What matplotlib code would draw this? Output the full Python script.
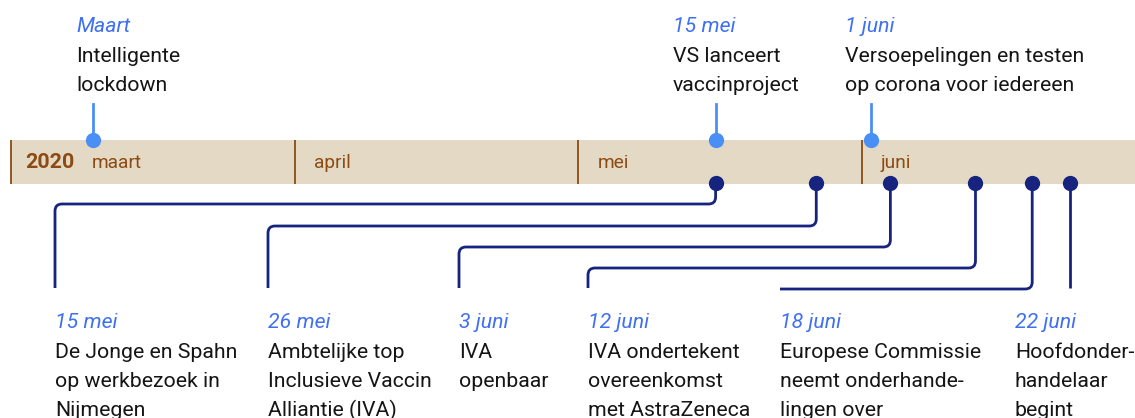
import matplotlib
matplotlib.use("Agg")
import matplotlib.pyplot as plt
from matplotlib.path import Path
from matplotlib.patches import PathPatch, Rectangle

plt.rcParams['font.family'] = ['Roboto', 'DejaVu Sans']

# ---------------- data ----------------
year_label = "2020"
months = ["maart", "april", "mei", "juni"]
month_days = [31, 30, 31, 30]

# events above the bar: (month index, day)
top_labels = ["Maart", "15 mei", "1 juni"]
top_month = [0, 2, 3]
top_day = [9, 15, 1]
top_texts = ["Intelligente\nlockdown",
             "VS lanceert\nvaccinproject",
             "Versoepelingen en testen\nop corona voor iedereen"]

# events below the bar
bot_labels = ["15 mei", "26 mei", "3 juni", "12 juni", "18 juni", "22 juni"]
bot_month = [2, 2, 3, 3, 3, 3]
bot_day = [15, 26, 3, 12, 18, 22]
bot_texts = ["De Jonge en Spahn\nop werkbezoek in\nNijmegen",
             "Ambtelijke top\nInclusieve Vaccin\nAlliantie (IVA)",
             "IVA\nopenbaar",
             "IVA ondertekent\novereenkomst\nmet AstraZeneca",
             "Europese Commissie\nneemt onderhande-\nlingen over",
             "Hoofdonder-\nhandelaar\nbegint"]

# ---------------- layout (pixels) ----------------
W, H = 1135, 418
PX0, PX_PER_MONTH = 11, 283.67
BAR_TOP, BAR_BOT = 140, 184
top_label_x = [76, 673, 845]
bot_label_x = [55, 268, 459, 588, 780, 1015]
bot_levels = [204, 226, 247, 268, 289, None]
LINE_PITCH = 29.3
R = 7  # corner radius

C_BAR = "#e4d9c5"
C_BROWN = "#8c4b12"
C_LIGHT = "#4a8ff5"
C_DARK = "#16247f"
C_DATE = "#3f6ff2"
C_TEXT = "#151515"
FS = 15.35
FS_MONTH = 13.8
FS_YEAR = 15.4

fig = plt.figure(figsize=(W / 100, H / 100), dpi=100)
ax = fig.add_axes([0, 0, 1, 1])
ax.set_xlim(-PX0 / PX_PER_MONTH, (W - PX0) / PX_PER_MONTH)
ax.set_ylim(H, 0)
ax.axis("off")


def month_pos(m, d):
    return m + d / month_days[m]


def xpix(x):
    return ax.transData.transform((x, 0))[0]


def xdata(px):
    return ax.transData.inverted().transform((px, 0))[0]


# bar
ax.add_patch(Rectangle((0, BAR_TOP), ax.get_xlim()[1] + 1, BAR_BOT - BAR_TOP,
                       facecolor=C_BAR, edgecolor="none", zorder=1))
for i, name in enumerate(months):
    ax.plot([i, i], [BAR_TOP, BAR_BOT], color=C_BROWN, lw=1.3, zorder=2,
            solid_capstyle="butt")
    off = 81 if i == 0 else 19
    ax.annotate(name, (i, 163), xytext=(off * 0.72, 0), textcoords="offset points",
                va="center", ha="left", fontsize=FS_MONTH, color=C_BROWN, zorder=3)
ax.annotate(year_label, (0, 163), xytext=(14 * 0.72, 0), textcoords="offset points",
            va="center", ha="left", fontsize=FS_YEAR, fontweight="bold", color=C_BROWN,
            zorder=3)


def draw_block(x_px, first_baseline, date, text):
    x = xdata(x_px)
    ax.text(x, first_baseline, date, fontsize=FS, style="italic", color=C_DATE,
            va="baseline", ha="left")
    for k, line in enumerate(text.split("\n")):
        ax.text(x, first_baseline + (k + 1) * LINE_PITCH, line, fontsize=FS,
                color=C_TEXT, va="baseline", ha="left")


# top events
for lab, m, d, txt, lx in zip(top_labels, top_month, top_day, top_texts, top_label_x):
    x = month_pos(m, d)
    ax.plot([x, x], [104, BAR_TOP], color=C_LIGHT, lw=2.0, zorder=4)
    ax.plot([x], [BAR_TOP], "o", ms=11, color=C_LIGHT, mec="none", zorder=5)
    draw_block(lx, 32.5, lab, txt)

# bottom events
END_Y = 288
for lab, m, d, txt, lx, lev in zip(bot_labels, bot_month, bot_day, bot_texts,
                                    bot_label_x, bot_levels):
    x = month_pos(m, d)
    xd = xpix(x)
    if lev is None:
        verts = [(xd, BAR_BOT), (xd, END_Y)]
        codes = [Path.MOVETO, Path.LINETO]
    else:
        verts = [(xd, BAR_BOT), (xd, lev - R), (xd, lev), (xd - R, lev)]
        codes = [Path.MOVETO, Path.LINETO, Path.CURVE3, Path.CURVE3]
        if lev < END_Y - R:
            verts += [(lx + R, lev), (lx, lev), (lx, lev + R), (lx, END_Y)]
            codes += [Path.LINETO, Path.CURVE3, Path.CURVE3, Path.LINETO]
        else:
            verts += [(lx, lev)]
            codes += [Path.LINETO]
    verts = [(xdata(vx), vy) for vx, vy in verts]
    ax.add_patch(PathPatch(Path(verts, codes), facecolor="none", edgecolor=C_DARK,
                           lw=2.0, zorder=4, capstyle="butt"))
    ax.plot([x], [183], "o", ms=11, color=C_DARK, mec="none", zorder=5)
    draw_block(lx, 328.5, lab, txt)

fig.savefig("out.png", dpi=100, facecolor="white")
